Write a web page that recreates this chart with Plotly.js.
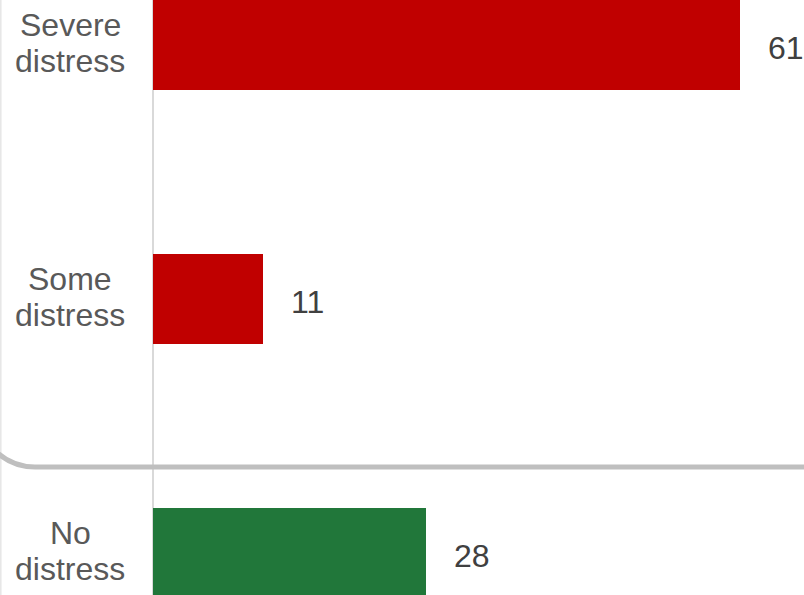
<!DOCTYPE html>
<html>
<head>
<meta charset="utf-8">
<script src="https://cdn.plot.ly/plotly-3.0.1.min.js"></script>
<style>
  html, body { margin: 0; padding: 0; background: #ffffff; }
  #chart { width: 804px; height: 595px; }
</style>
</head>
<body>
<div id="chart"></div>
<script>
// ---- data ----
const categories = ["Severe distress", "Some distress", "No distress"];
const values = [60.5, 11.4, 28.1];
const valueLabels = ["61", "11", "28"];
const barColors = ["#C00000", "#C00000", "#21773A"];

// ---- geometry (pixels) ----
const W = 804, H = 595;
const zeroPx = 152.7;          // x pixel of value 0
const pxPerUnit = 9.713;       // horizontal scale
const catStep = 254;           // vertical distance between category centres
const firstCentre = 45;        // pixel y of the first category centre
const barPx = 90;              // bar thickness

const xRange = [-zeroPx / pxPerUnit, (W - zeroPx) / pxPerUnit];
const yTop = -firstCentre / catStep;
const yBottom = (H - firstCentre) / catStep;

const FONT = "Liberation Sans, Arial, Helvetica, sans-serif";

const trace = {
  type: "bar",
  orientation: "h",
  y: categories,
  x: values,
  width: barPx / catStep,
  marker: { color: barColors, line: { width: 0 } },
  hoverinfo: "skip"
};

const annotations = [];
categories.forEach((c, i) => {
  const parts = c.split(" ");
  annotations.push({
    xref: "paper", yref: "y", x: 70 / W, y: c,
    xanchor: "center", yanchor: "middle", yshift: 20,
    text: parts[0], showarrow: false,
    font: { family: FONT, size: 32, color: "#595959" }
  });
  annotations.push({
    xref: "paper", yref: "y", x: 70 / W, y: c,
    xanchor: "center", yanchor: "middle", yshift: -16,
    text: parts.slice(1).join(" "), showarrow: false,
    font: { family: FONT, size: 32, color: "#595959" }
  });
  annotations.push({
    xref: "x", yref: "y", x: values[i], y: c,
    xanchor: "left", yanchor: "middle", xshift: 26, yshift: -3,
    text: valueLabels[i], showarrow: false,
    font: { family: FONT, size: 32, color: "#404040" }
  });
});

// bracket path (rounded corner sweeping into a horizontal rule)
function P(px, py) { return (px / W).toFixed(5) + "," + (1 - py / H).toFixed(5); }
const bracketPath =
  "M" + P(-22, 200) + " L" + P(-22, 410) +
  " C" + P(-22, 441.5) + " " + P(3.5, 467) + " " + P(35, 467) +
  " L" + P(830, 467);

const shapes = [
  { type: "line", xref: "paper", yref: "paper",
    x0: 0.8 / W, x1: 0.8 / W, y0: 0, y1: 1,
    line: { color: "#E6E6E6", width: 1.5 } },
  { type: "path", xref: "paper", yref: "paper", path: bracketPath,
    line: { color: "#BFBFBF", width: 5 } }
];

const layout = {
  width: W, height: H,
  margin: { l: 0, r: 0, t: 0, b: 0, pad: 0 },
  paper_bgcolor: "#ffffff",
  plot_bgcolor: "#ffffff",
  showlegend: false,
  bargap: 0,
  xaxis: {
    range: xRange, showgrid: false, showticklabels: false, ticks: "",
    zeroline: true, zerolinecolor: "#D9D9D9", zerolinewidth: 2,
    showline: false, fixedrange: true
  },
  yaxis: {
    type: "category", categoryorder: "array", categoryarray: categories,
    range: [yBottom, yTop], showgrid: false, showticklabels: false,
    ticks: "", zeroline: false, showline: false, fixedrange: true
  },
  annotations: annotations,
  shapes: shapes
};

Plotly.newPlot("chart", [trace], layout, { displayModeBar: false, staticPlot: true });
</script>
</body>
</html>
